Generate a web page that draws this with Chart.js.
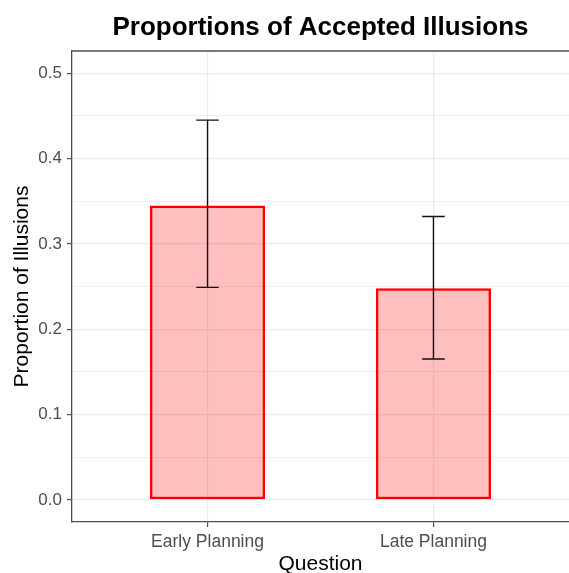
<!DOCTYPE html>
<html>
<head>
<meta charset="utf-8">
<script src="https://cdn.jsdelivr.net/npm/chart.js@4"></script>
<style>
  html, body { margin: 0; padding: 0; background: #fff; }
  #wrap { width: 569px; height: 573px; }
</style>
</head>
<body>
<div id="wrap"><canvas id="myChart"></canvas></div>
<script>
// Proportions bar chart with error bars
const categories = ["Early Planning", "Late Planning"]
const proportions = [0.345, 0.248]
const errLow = [0.249, 0.165]
const errHigh = [0.445, 0.332]
const yTicks = [0, 0.05, 0.1, 0.15, 0.2, 0.25, 0.3, 0.35, 0.4, 0.45, 0.5]

const FONT = "'Liberation Sans', Arial, sans-serif"

const errorBars = {
    id: "errorBars",
    afterDatasetsDraw(chart) {
        const { ctx, scales } = chart
        ctx.save()
        ctx.strokeStyle = "#111"
        ctx.lineWidth = 1.4
        categories.forEach((c, i) => {
            const x = scales.x.getPixelForValue(i + 1)
            const x0 = scales.x.getPixelForValue(i + 1 - 0.05)
            const x1 = scales.x.getPixelForValue(i + 1 + 0.05)
            const yl = scales.y.getPixelForValue(errLow[i])
            const yh = scales.y.getPixelForValue(errHigh[i])
            ctx.beginPath()
            ctx.moveTo(x, yl); ctx.lineTo(x, yh)
            ctx.moveTo(x0, yl); ctx.lineTo(x1, yl)
            ctx.moveTo(x0, yh); ctx.lineTo(x1, yh)
            ctx.stroke()
        })
        ctx.restore()
    },
    afterDraw(chart) {
        // top panel border
        const { ctx, chartArea } = chart
        ctx.save()
        ctx.strokeStyle = "#4d4d4d"
        ctx.lineWidth = 1.3
        ctx.beginPath()
        ctx.moveTo(chartArea.left, chartArea.top)
        ctx.lineTo(chartArea.right, chartArea.top)
        ctx.stroke()
        ctx.restore()
    },
}

const data = {
    datasets: [
        {
            data: categories.map((c, i) => ({ x: i + 1, y: proportions[i] })),
            backgroundColor: "rgba(255, 0, 0, 0.25)",
            borderColor: "#ff0000",
            borderWidth: 2.5,
            borderSkipped: false,
            categoryPercentage: 1,
            barPercentage: 0.51,
        },
    ],
}

var ctx = document.getElementById("myChart").getContext("2d")
const config = {
    type: "bar",
    data: data,
    options: {
        responsive: true,
        maintainAspectRatio: false,
        animation: false,
        layout: { padding: 0 },
        plugins: {
            legend: { display: false },
            tooltip: { enabled: false },
            title: {
                display: true,
                fullSize: false,
                text: "Proportions of Accepted Illusions",
                color: "#000",
                font: { family: FONT, size: 26, weight: "bold", lineHeight: 1.2 },
                padding: { top: 12, bottom: 7.8 },
            },
        },
        scales: {
            x: {
                type: "linear",
                offset: false,
                min: 0.4,
                max: 2.6,
                afterBuildTicks: (axis) => {
                    axis.ticks = categories.map((c, i) => ({ value: i + 1 }))
                },
                afterFit: (scale) => { scale.height = 51 },
                ticks: {
                    color: "#4d4d4d",
                    font: { family: FONT, size: 17.5 },
                    padding: 5,
                    maxRotation: 0,
                    callback: (v) => categories[v - 1],
                },
                grid: {
                    offset: false,
                    color: "#ebebeb",
                    lineWidth: 1.2,
                    tickColor: "#4d4d4d",
                    tickLength: 5,
                },
                border: { color: "#4d4d4d", width: 1.3 },
                title: {
                    display: true,
                    text: "Question",
                    color: "#000",
                    font: { family: FONT, size: 21, lineHeight: 1 },
                    padding: { top: 0, bottom: -2 },
                },
            },
            y: {
                min: -0.026,
                max: 0.526,
                afterBuildTicks: (axis) => {
                    axis.ticks = yTicks.map((v) => ({ value: v }))
                },
                afterFit: (scale) => { scale.width = 72 },
                ticks: {
                    color: "#4d4d4d",
                    font: { family: FONT, size: 17 },
                    padding: 5,
                    callback: (v, i) => (i % 2 === 0 ? v.toFixed(1) : ""),
                },
                grid: {
                    color: "#ebebeb",
                    lineWidth: (c) => (c.index % 2 === 0 ? 1.2 : 0.8),
                    tickColor: (c) => (c.index % 2 === 0 ? "#4d4d4d" : "rgba(0,0,0,0)"),
                    tickLength: 5,
                },
                border: { color: "#4d4d4d", width: 1.3 },
                title: {
                    display: true,
                    text: "Proportion of Illusions",
                    color: "#000",
                    font: { family: FONT, size: 21, lineHeight: 1 },
                    padding: { top: 12, bottom: 0 },
                },
            },
        },
    },
    plugins: [errorBars],
}
var myChart = new Chart(ctx, config)
</script>
</body>
</html>
